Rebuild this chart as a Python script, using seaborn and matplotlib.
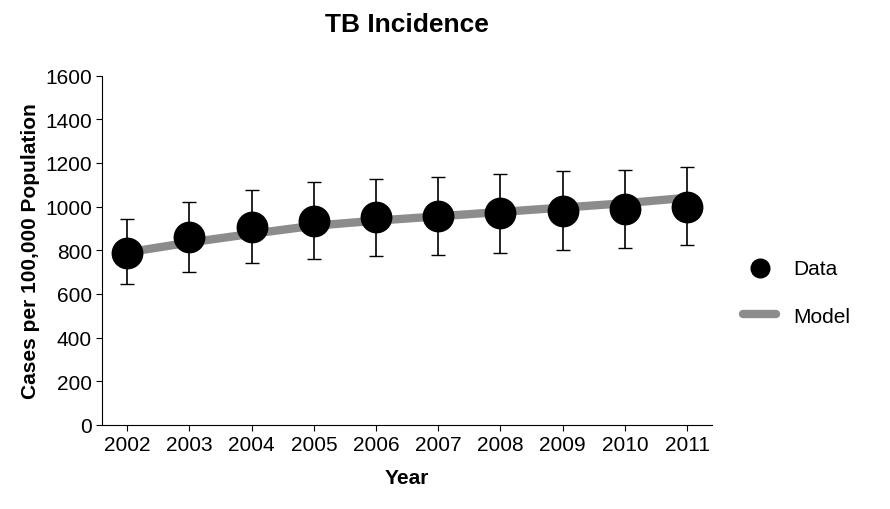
import matplotlib
matplotlib.use("Agg")
import matplotlib.pyplot as plt
import seaborn as sns
import pandas as pd

years = [2002, 2003, 2004, 2005, 2006, 2007, 2008, 2009, 2010, 2011]
data = [786, 862, 905, 935, 950, 957, 968, 980, 990, 1000]
err_up = [155, 160, 172, 175, 178, 180, 182, 182, 178, 182]
err_lo = [140, 160, 165, 175, 178, 178, 180, 178, 178, 178]
model = [790, 835, 875, 912, 935, 955, 975, 995, 1015, 1040]

sns.set_style("white")
plt.rcParams['font.family'] = ['Liberation Sans', 'DejaVu Sans']
for k in ['text.color', 'axes.labelcolor', 'xtick.color', 'ytick.color', 'axes.edgecolor']:
    plt.rcParams[k] = 'black'

df = pd.DataFrame({'Year': years, 'Data': data, 'Model': model})

fig, ax = plt.subplots(figsize=(8.9, 5.1), dpi=100)
fig.subplots_adjust(left=0.115, right=0.8, top=0.85, bottom=0.165)
sns.lineplot(data=df, x='Year', y='Model', color='#8c8c8c', linewidth=6,
             label='Model', ax=ax, zorder=2)
ax.errorbar(years, data, yerr=[err_lo, err_up], fmt='none', ecolor='black',
            elinewidth=1.2, capsize=5, zorder=3)
sns.scatterplot(data=df, x='Year', y='Data', color='black', s=450,
                label='Data', ax=ax, zorder=4, edgecolor='black')

ax.set_xlim(2001.6, 2011.4)
ax.set_ylim(0, 1600)
ax.set_xticks(years)
ax.set_yticks(range(0, 1601, 200))
ax.tick_params(labelsize=15, direction='out', length=4, left=True, bottom=True)
for s in ['top', 'right']:
    ax.spines[s].set_visible(False)
ax.set_xlabel('Year', fontsize=15, fontweight='bold', labelpad=10)
ax.set_ylabel('Cases per 100,000 Population', fontsize=15, fontweight='bold')
ax.set_title('TB Incidence', fontsize=19, fontweight='bold', pad=32)

h, l = ax.get_legend_handles_labels()
leg = ax.legend([h[1], h[0]], [l[1], l[0]], loc='center left',
                bbox_to_anchor=(1.02, 0.38), frameon=False, fontsize=15,
                markerscale=0.6, handlelength=1.6, labelspacing=1.4)
fig.savefig('out.png')
